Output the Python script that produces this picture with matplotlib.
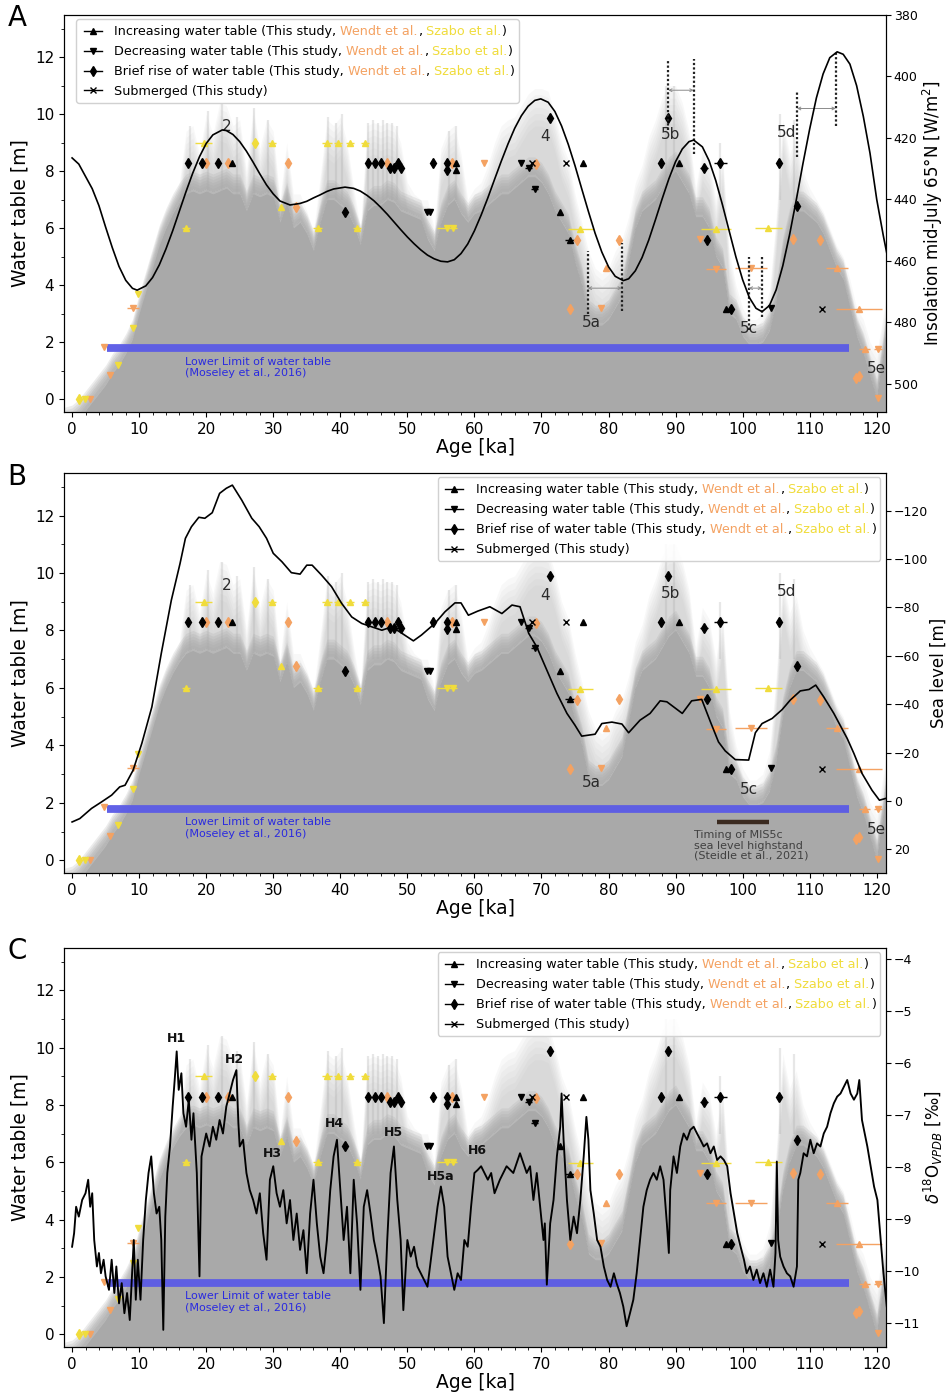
import numpy as np
import matplotlib.pyplot as plt
from matplotlib.lines import Line2D
from matplotlib.ticker import MultipleLocator
from matplotlib.offsetbox import AnchoredOffsetbox, VPacker, HPacker, TextArea, DrawingArea

GREY = '#a9a9a9'
ORANGE = '#f4a262'
YELLOW = '#f0dc3c'
BLUE = '#5a5ae6'

# ---- grey water-table density (upper edge of dense grey, upper edge of faint haze) ----
bg_age = [-1.5, 0, 1, 2, 3, 4, 5, 6, 7, 8, 9, 10, 11, 12, 13, 14, 15, 16, 17, 18, 19, 20,
          21, 22, 23, 24, 25, 26, 27, 28, 29, 30, 31, 32, 33, 34, 35, 36, 37, 38, 39, 40,
          41, 42, 43, 44, 45, 46, 47, 48, 49, 50, 51, 52, 53, 54, 55, 56, 57, 58, 59, 60,
          61, 62, 63, 64, 65, 66, 67, 68, 69, 70, 71, 72, 73, 74, 75, 76, 77, 78, 79, 80,
          81, 82, 83, 84, 85, 86, 87, 88, 89, 90, 91, 92, 93, 94, 95, 96, 97, 98, 99, 100,
          101, 102, 103, 104, 105, 106, 107, 108, 109, 110, 111, 112, 113, 114, 115, 116,
          117, 118, 119, 120, 121, 121.6]
bg_solid = [-0.6, -0.5, -0.3, 0.0, 0.3, 0.6, 0.9, 1.3, 1.6, 2.0, 2.5, 3.4, 4.2, 5.0, 5.8, 6.4,
            6.9, 7.3, 7.6, 7.7, 7.6, 7.7, 7.6, 7.7, 7.8, 7.6, 7.6, 7.0, 7.6, 7.5, 7.6, 7.5,
            6.6, 7.3, 6.4, 6.6, 6.2, 5.6, 6.6, 7.4, 7.4, 7.2, 7.0, 6.5, 5.8, 7.0, 7.2, 7.2,
            7.4, 7.3, 7.0, 6.9, 6.8, 6.7, 6.0, 5.6, 6.6, 7.2, 7.4, 6.9, 6.6, 6.9, 7.0, 7.2,
            7.4, 7.6, 7.6, 7.8, 8.0, 8.2, 8.2, 8.0, 7.6, 7.0, 6.6, 6.2, 5.2, 4.4, 3.2, 3.0,
            3.0, 3.2, 3.6, 4.0, 5.2, 6.4, 7.0, 7.2, 7.4, 7.8, 8.2, 8.4, 8.0, 7.6, 6.8, 6.8,
            6.4, 5.4, 5.0, 3.4, 3.2, 2.6, 2.3, 2.3, 2.4, 2.8, 3.8, 5.4, 6.4, 7.0, 7.0, 6.8,
            6.6, 6.2, 5.6, 5.0, 4.6, 3.6, 2.6, 2.0, 1.2, 0.4, 2.0, 3.2]
bg_haze = [-0.6, -0.5, -0.3, 0.0, 0.3, 0.6, 0.9, 1.3, 1.6, 2.0, 2.5, 3.4, 4.2, 5.0, 5.8, 6.4,
           6.9, 7.6, 9.4, 9.6, 8.6, 10.0, 9.3, 10.4, 10.3, 9.6, 9.8, 8.0, 10.2, 8.8, 9.8, 9.4,
           7.0, 9.0, 7.2, 7.2, 6.6, 5.9, 7.8, 9.8, 9.6, 9.9, 9.0, 7.4, 6.0, 9.6, 9.7, 9.6,
           9.7, 9.6, 9.0, 7.6, 7.2, 7.0, 7.0, 6.0, 8.8, 9.4, 9.6, 8.6, 7.0, 7.4, 7.6, 8.2,
           9.0, 9.6, 9.8, 9.9, 10.3, 10.7, 10.9, 10.9, 10.8, 10.0, 9.0, 8.4, 7.2, 6.2, 5.2,
           4.6, 4.4, 4.6, 5.2, 5.6, 6.4, 7.6, 8.2, 9.2, 9.8, 10.6, 11.0, 11.0, 10.4, 9.4,
           7.4, 8.8, 8.4, 7.0, 8.6, 5.2, 4.0, 3.2, 2.8, 2.8, 3.0, 3.8, 6.4, 9.8, 8.6, 9.2,
           8.0, 7.4, 7.0, 6.6, 6.0, 5.4, 5.0, 4.2, 3.2, 2.8, 2.0, 1.6, 3.0, 4.0]
streak_age = [17.6, 20.3, 22.3, 24.6, 27.2, 29.2, 38.2, 39.4, 40.3, 44.2, 44.9, 45.6,
              46.3, 47.0, 47.7, 48.4, 56.2, 57.2, 88.6, 89.8, 96.7, 105.5, 107.6]
streak_top = [9.6, 10.1, 10.4, 9.9, 10.2, 9.8, 9.9, 9.7, 10.0, 9.7, 9.8, 9.7, 9.8, 9.7,
              9.7, 9.6, 9.4, 9.6, 11.0, 11.0, 9.0, 10.0, 9.8]

# ---- water table markers: (age ka, level m, symbol, age error) ----
this_age = [17.3, 19.4, 21.7, 23.9, 40.7, 44.2, 45.1, 46.0, 47.4, 48.0, 48.6, 49.0, 53.8,
            55.9, 55.9, 57.3, 57.2, 53.0, 53.4, 67.0, 68.1, 68.6, 69.0, 71.2, 73.6, 76.2,
            72.7, 74.3, 87.8, 88.9, 90.5, 94.3, 96.7, 94.7, 97.5, 98.3, 104.3, 105.4,
            108.1, 111.8]
this_wt = [8.3, 8.3, 8.3, 8.3, 6.58, 8.3, 8.3, 8.3, 8.1, 8.1, 8.3, 8.1, 8.3,
           8.3, 8.05, 8.3, 8.05, 6.58, 6.58, 8.3, 8.1, 8.3, 7.38, 9.88, 8.3, 8.3,
           6.58, 5.6, 8.3, 9.88, 8.3, 8.1, 8.3, 5.6, 3.17, 3.17, 3.2, 8.3,
           6.78, 3.17]
this_kind = ['d', 'd', 'd', '^', 'd', 'd', 'd', 'd', 'd', 'd', 'd', 'd', 'd',
             'd', 'd', '^', '^', 'v', 'v', 'v', 'v', 'x', 'v', 'd', 'x', '^',
             '^', '^', 'd', 'd', '^', 'd', 'd', 'd', '^', 'd', 'v', 'd',
             'd', 'x']
this_err = [0, 0, 0, 0, 0, 0, 0, 0, 0, 0, 0, 0, 0,
            0, 0, 0, 0, 0.3, 0, 0, 0.5, 0, 0.5, 0, 0, 0,
            0, 0.8, 0, 0, 0, 0.6, 0.9, 0, 0, 0, 0, 0,
            0, 0]

wendt_age = [2.7, 4.8, 5.7, 9.15, 19.9, 23.2, 32.2, 33.4, 47.0, 56.7, 61.5, 69.2, 74.3,
             75.3, 78.9, 79.6, 81.5, 93.6, 96.0, 101.3, 107.5, 111.6, 114.1, 117.4,
             118.2, 120.2, 116.9, 117.4, 120.2]
wendt_wt = [0.0, 1.84, 0.84, 3.2, 8.3, 8.3, 8.3, 6.76, 8.3, 8.3, 8.3, 8.25, 3.17,
            5.58, 3.2, 4.6, 5.6, 5.62, 4.57, 4.6, 5.62, 5.58, 4.6, 3.17,
            1.77, 1.77, 0.74, 0.82, 0.06]
wendt_kind = ['v', 'v', 'v', 'v', 'd', 'd', 'd', 'd', 'd', 'd', 'v', 'd', 'd',
              'd', 'v', '^', 'd', 'v', 'v', 'v', 'd', 'd', '^', '^',
              '^', 'v', 'd', 'd', 'v']
wendt_err = [0, 0, 0, 0.9, 0, 0, 0, 0, 0, 0, 0, 0, 0,
             0, 0, 0.2, 0, 0, 1.5, 2.4, 0, 0, 1.6, 3.4,
             0.8, 0.6, 0, 0, 0]

szabo_age = [1.0, 1.9, 6.8, 9.15, 9.8, 17.0, 19.6, 27.3, 29.8, 31.1, 36.6, 38.0, 39.6,
             41.5, 42.5, 43.7, 55.9, 56.8, 75.8, 96.0, 103.8]
szabo_wt = [0.0, 0.0, 1.22, 2.5, 3.7, 6.0, 9.0, 9.0, 9.0, 6.76, 6.0, 9.0, 9.0,
            9.0, 6.0, 9.0, 6.0, 6.0, 5.98, 5.98, 6.0]
szabo_kind = ['d', 'v', 'v', 'v', 'v', '^', '^', 'd', '^', '^', '^', '^', '^',
              '^', '^', '^', 'v', 'v', '^', '^', '^']
szabo_err = [0, 0, 0, 0, 0, 0.6, 1.2, 0, 0.6, 0, 0.6, 0.8, 0.6,
             0.6, 0.6, 0.6, 1.5, 0, 1.9, 2.2, 2.0]

lower_limit_age = [5.2, 115.8]
lower_limit_wt = 1.8

# ---- panel A: insolation mid-July 65N ----
ins_age = [0, 1, 2, 3, 4, 5, 6, 7, 8, 9, 9.7, 11, 12, 13, 14, 15, 16, 17, 18, 19, 20, 21,
           22.4, 23, 24, 25, 26, 27, 28, 29, 30, 31, 32.5, 34, 35, 36, 37, 38, 39, 40.7,
           42, 43, 44, 45, 46, 47, 48, 49, 50, 51, 52, 53, 54, 55, 56, 57, 58, 59, 60,
           61, 62, 63, 64, 65, 66, 67, 68, 69, 69.9, 71, 72, 73, 74, 75, 76, 77, 78, 79,
           80, 81, 82.2, 83, 84, 85, 86, 87, 88, 89, 90, 91, 92, 92.7, 94, 95, 96, 97, 98,
           99, 100, 101, 102, 102.9, 104, 105, 106, 107, 108, 109, 110, 111, 112, 113,
           114.1, 115, 116, 117, 118, 119, 120, 121, 121.6]
ins_val = [426.5, 428.5, 432.5, 436.5, 442.0, 449.0, 455.7, 461.8, 466.3, 468.9, 469.5,
           468.1, 465.4, 461.3, 456.1, 450.2, 443.8, 437.4, 431.4, 426.1, 421.8, 419.0,
           417.4, 417.6, 418.9, 421.2, 424.3, 427.9, 431.7, 435.3, 438.2, 440.5, 441.8,
           441.3, 440.6, 439.5, 438.5, 437.4, 436.6, 436.0, 436.4, 437.3, 438.7, 440.4,
           442.5, 444.8, 447.3, 449.8, 452.2, 454.4, 456.4, 458.1, 459.3, 460.1, 460.3,
           459.6, 457.6, 454.5, 450.2, 445.1, 439.5, 433.5, 427.6, 422.0, 416.9, 412.8,
           409.7, 407.8, 407.3, 408.4, 411.4, 416.1, 422.1, 429.0, 436.5, 443.9, 451.0,
           457.1, 461.9, 465.0, 466.4, 465.8, 463.2, 458.9, 453.2, 446.6, 439.8, 433.3,
           427.7, 423.6, 421.2, 420.7, 422.9, 427.4, 433.9, 441.8, 450.3, 458.7, 466.1,
           471.9, 475.4, 476.5, 474.5, 469.4, 461.5, 451.5, 440.2, 428.3, 417.1, 407.0,
           399.2, 393.9, 392.0, 392.8, 396.0, 403.0, 413.0, 425.0, 440.0, 452.0, 458.6]

dot_age = [76.9, 82.0, 88.9, 92.7, 100.9, 102.9, 108.1, 113.9]
dot_lo = [3.0, 3.1, 9.44, 8.6, 2.45, 2.9, 8.5, 9.6]
dot_hi = [5.2, 5.5, 11.95, 11.95, 5.0, 5.0, 10.78, 12.18]
lag_start = [76.9, 88.9, 100.9, 108.1]
lag_end = [82.0, 92.7, 102.9, 113.9]
lag_wt = [3.9, 10.84, 3.9, 10.2]

stage_text = ['2', '4', '5a', '5b', '5c', '5d', '5e']
stage_age = [23.1, 70.6, 77.5, 89.2, 101.0, 106.6, 120.0]
stage_wt = [9.58, 9.23, 2.7, 9.3, 2.47, 9.37, 1.07]

# ---- panel B: sea level ----
sl_age = [0, 1.15, 2.9, 4.4, 5.9, 7.1, 7.9, 9.1, 10.4, 11.9, 13.3, 14.8, 16.1, 16.9, 17.8,
          18.9, 19.8, 20.9, 22.0, 23.0, 23.9, 25.3, 26.8, 27.9, 29.0, 30.0, 31.3, 32.7,
          34.0, 35.0, 35.8, 37.2, 38.7, 40.2, 41.7, 43.2, 44.7, 46.2, 47.7, 49.2, 50.9,
          52.1, 54.1, 55.6, 57.1, 58.0, 59.1, 60.5, 62.3, 64.1, 65.6, 66.8, 68.1, 69.3,
          70.8, 72.3, 73.8, 75.0, 76.0, 78.0, 79.0, 80.5, 82.0, 83.0, 84.7, 86.2, 87.7,
          88.7, 91.0, 92.4, 93.9, 95.2, 96.4, 97.4, 98.9, 100.9, 101.9, 102.9, 104.4,
          105.9, 107.1, 108.6, 109.9, 110.9, 112.1, 113.6, 115.6, 116.6, 117.8, 119.3,
          120.4, 121.3]
sl_val = [8.7, 7.3, 3.1, 0.4, -2.4, -5.8, -6.5, -12.7, -23.8, -38.9, -61, -83, -98.2,
          -108.6, -113.4, -117.3, -116.9, -119.2, -127.2, -129.3, -130.6, -124.4, -116.9,
          -113.4, -108.6, -102.4, -98.9, -94.4, -93.8, -97.5, -97.5, -93.4, -88.6, -81.7,
          -76.1, -73.4, -72.0, -70.6, -72.0, -69.3, -66.2, -68.6, -73.4, -78.2, -81.9,
          -81.9, -76.8, -78.5, -80.3, -77.5, -81, -80.3, -69.3, -63.7, -54.1, -44.5,
          -36.2, -31.3, -26.8, -27.6, -32.0, -32.6, -31.8, -28.2, -33.4, -36.2, -41.4,
          -41.0, -36.2, -41.4, -42.0, -32.7, -24.4, -20.7, -17.1, -16.9, -28.2, -32.0,
          -34.1, -37.8, -41.7, -45.5, -46.1, -47.9, -43.0, -36.2, -25.8, -19.6, -11.4,
          -4.4, -0.3, -1.0]
mis5c_age = [96.2, 103.9]
mis5c_wt = 1.33

# ---- panel C: speleothem d18O ----
d18o_age = [0.0, 0.3, 0.6, 1.0, 1.5, 2.0, 2.4, 2.7, 3.0, 3.3, 3.7, 4.0, 4.3, 4.7, 5.0, 5.5,
            5.9, 6.3, 6.6, 7.0, 7.4, 7.8, 8.2, 8.6, 9.0, 9.2, 9.5, 9.8, 10.2, 10.6, 11.0,
            11.4, 11.8, 12.2, 12.6, 13.0, 13.3, 13.6, 13.9, 14.2, 14.6, 15.0, 15.3, 15.6,
            15.9, 16.3, 16.6, 17.0, 17.4, 17.8, 18.1, 18.6, 19.0, 19.3, 19.6, 20.0, 20.5,
            21.0, 21.5, 22.0, 22.5, 23.0, 23.5, 24.0, 24.5, 24.8, 25.0, 25.5, 26.0, 26.5,
            27.0, 27.5, 28.0, 28.5, 29.0, 29.5, 30.0, 30.5, 31.0, 31.5, 32.0, 32.5, 33.0,
            33.5, 34.0, 34.5, 35.0, 35.5, 36.0, 36.5, 37.0, 37.5, 38.0, 38.5, 39.0, 39.5,
            40.0, 40.5, 41.0, 41.5, 42.0, 42.5, 43.0, 43.5, 44.0, 44.5, 45.0, 45.5, 46.0,
            46.5, 47.0, 47.5, 48.0, 48.5, 49.0, 49.4, 50.0, 50.5, 51.0, 51.5, 52.0, 52.5,
            53.0, 53.5, 54.0, 54.5, 55.0, 55.5, 56.0, 56.5, 57.0, 57.5, 58.0, 58.5, 59.0,
            59.5, 60.0, 60.5, 61.0, 61.5, 62.0, 62.5, 63.0, 63.8, 64.8, 65.8, 66.8, 67.8,
            68.3, 68.8, 69.3, 69.8, 70.3, 70.5, 70.8, 71.3, 71.8, 72.3, 72.8, 73.0, 73.3,
            73.8, 74.3, 74.8, 75.3, 75.8, 76.3, 76.7, 77.0, 77.3, 77.8, 78.3, 78.8, 79.3,
            79.8, 80.3, 80.8, 81.2, 81.7, 82.2, 82.7, 83.2, 83.7, 84.2, 84.7, 85.2, 85.7,
            86.2, 86.7, 87.2, 87.7, 88.2, 88.7, 89.0, 89.2, 89.7, 90.2, 90.7, 91.2, 91.7,
            92.2, 92.7, 93.2, 93.7, 94.2, 94.7, 95.2, 95.7, 96.2, 96.7, 97.2, 97.7, 98.2,
            98.7, 99.2, 99.7, 100.2, 100.6, 101.1, 101.6, 102.1, 102.6, 103.1, 103.6,
            104.1, 104.6, 104.9, 105.1, 105.3, 105.6, 106.1, 106.6, 107.1, 107.6, 108.1,
            108.3, 108.6, 109.1, 109.6, 110.1, 110.6, 111.1, 111.6, 112.1, 112.6, 113.1,
            113.6, 114.1, 114.6, 115.1, 115.6, 116.1, 116.6, 117.1, 117.4, 117.8, 118.2,
            118.6, 119.1, 119.6, 120.1, 120.6, 121.0, 121.5]
d18o_val = [-9.54, -9.28, -8.77, -8.96, -8.64, -8.51, -8.25, -8.77, -8.51, -9.41, -9.92,
            -9.66, -10.05, -9.79, -10.11, -10.37, -9.79, -10.43, -9.92, -10.63, -10.24,
            -10.82, -10.43, -10.95, -9.92, -9.41, -10.56, -9.79, -10.56, -9.41, -8.64,
            -8.12, -7.80, -8.51, -8.90, -8.77, -9.41, -11.14, -8.96, -8.12, -7.61, -6.84,
            -6.33, -5.78, -6.52, -6.20, -6.97, -7.23, -6.71, -7.48, -6.97, -8.12, -10.11,
            -7.80, -7.61, -7.36, -7.61, -7.23, -7.48, -7.10, -7.36, -6.84, -6.59, -6.33,
            -6.14, -7.16, -7.61, -7.48, -8.12, -8.45, -8.64, -8.90, -8.51, -9.28, -9.79,
            -8.25, -7.99, -8.51, -8.77, -8.45, -9.09, -8.64, -9.41, -8.90, -9.60, -9.22,
            -10.05, -8.90, -8.25, -9.09, -9.73, -10.05, -9.41, -8.45, -7.80, -7.48, -8.45,
            -9.41, -8.77, -10.05, -8.25, -9.09, -10.37, -8.77, -8.45, -8.90, -9.41, -9.73,
            -10.11, -11.01, -9.41, -8.12, -7.61, -8.64, -9.41, -10.76, -9.41, -9.73, -9.54,
            -9.92, -10.05, -10.18, -10.31, -9.79, -9.28, -8.77, -8.38, -8.77, -9.73,
            -10.05, -10.37, -10.05, -10.18, -9.41, -9.54, -8.77, -8.12, -8.06, -7.99,
            -8.12, -8.25, -8.12, -8.51, -8.25, -7.99, -8.12, -7.74, -8.12, -7.99, -8.64,
            -8.12, -8.77, -9.41, -9.09, -10.27, -9.09, -8.64, -7.80, -7.23, -6.59, -7.48,
            -8.64, -9.41, -8.96, -9.28, -8.64, -7.80, -7.04, -7.48, -8.45, -8.90, -9.41,
            -9.54, -9.92, -10.18, -10.31, -10.05, -10.24, -10.43, -10.69, -11.07, -10.82,
            -10.56, -10.05, -9.41, -8.77, -8.45, -8.25, -8.12, -8.25, -7.99, -8.25, -9.09,
            -9.66, -8.45, -7.80, -8.12, -7.61, -7.36, -7.48, -7.29, -7.23, -7.36, -7.48,
            -7.61, -7.55, -7.74, -7.61, -7.87, -7.80, -7.87, -7.99, -8.51, -8.90, -9.28,
            -9.54, -9.79, -10.05, -9.92, -10.18, -9.98, -10.24, -10.05, -10.31, -9.98,
            -10.31, -9.66, -7.90, -9.41, -9.73, -9.92, -10.05, -10.11, -10.31, -9.92,
            -8.25, -8.12, -7.74, -7.80, -7.48, -7.74, -7.55, -7.61, -7.36, -7.23, -6.97,
            -6.78, -6.65, -6.59, -6.46, -6.33, -6.59, -6.71, -6.59, -6.33, -7.10, -7.36,
            -7.61, -7.99, -8.38, -8.64, -9.41, -10.05, -10.69]

heinrich_text = ['H1', 'H2', 'H3', 'H4', 'H5', 'H5a', 'H6']
heinrich_age = [15.5, 24.2, 29.9, 39.1, 47.9, 54.9, 60.4]
heinrich_wt = [10.34, 9.6, 6.32, 7.37, 7.04, 5.52, 6.43]

legend_kind = ['^', 'v', 'd', 'x']
legend_label = ['Increasing water table (This study,', 'Decreasing water table (This study,',
                'Brief rise of water table (This study,', 'Submerged (This study)']


def draw_background(ax):
    solid = np.array(bg_solid)
    haze = np.array(bg_haze)
    ax.fill_between(bg_age, -1, solid - 0.4, color=GREY, lw=0, zorder=0)
    for k in range(8):
        ax.fill_between(bg_age, -1, solid - 0.4 + 0.1 * k, color=GREY, alpha=0.22,
                        lw=0, zorder=0)
    for k in range(7):
        top = np.maximum(haze - 0.22 * k, solid - 0.3)
        ax.fill_between(bg_age, solid - 0.3, top, color=GREY, alpha=0.075, lw=0, zorder=0)
    ax.vlines(streak_age, 7.0, streak_top, colors=GREY, lw=1.6, alpha=0.28, zorder=0)


def draw_markers(ax):
    for ages, wts, kinds, errs, col in [(wendt_age, wendt_wt, wendt_kind, wendt_err, ORANGE),
                                        (szabo_age, szabo_wt, szabo_kind, szabo_err, YELLOW),
                                        (this_age, this_wt, this_kind, this_err, 'k')]:
        for a, w, k, e in zip(ages, wts, kinds, errs):
            ms = {'^': 5, 'v': 5, 'd': 5.5, 'x': 4}[k]
            ax.errorbar(a, w, xerr=e if e else None, fmt=k, color=col, ms=ms, mew=1,
                        elinewidth=1, capsize=0, zorder=3)


def add_legend(ax, loc, anchor):
    fs = 9.2
    rows = []
    for mk, lab in zip(legend_kind, legend_label):
        da = DrawingArea(17, 8, 0, 0)
        da.add_artist(Line2D([2, 15], [3.2, 3.2], color='k', lw=1))
        da.add_artist(Line2D([8.5], [3.2], marker=mk, color='k', ls='none',
                             ms=4 if mk == 'x' else 5))
        parts = [da, DrawingArea(7, 1, 0, 0), TextArea(lab, textprops=dict(fontsize=fs))]
        if 'Submerged' not in lab:
            parts += [DrawingArea(2.9, 1, 0, 0),
                      TextArea('Wendt et al.', textprops=dict(fontsize=fs, color=ORANGE)),
                      TextArea(',', textprops=dict(fontsize=fs)),
                      DrawingArea(2.9, 1, 0, 0),
                      TextArea('Szabo et al.', textprops=dict(fontsize=fs, color=YELLOW)),
                      TextArea(')', textprops=dict(fontsize=fs))]
        rows.append(HPacker(children=parts, align='baseline', pad=0, sep=0))
    box = AnchoredOffsetbox(loc=loc, child=VPacker(children=rows, align='left', pad=0, sep=4.2),
                            pad=0.35, borderpad=0.3, frameon=True, bbox_to_anchor=anchor,
                            bbox_transform=ax.transAxes)
    box.patch.set_boxstyle('round,pad=0,rounding_size=0.2')
    box.patch.set_facecolor((1, 1, 1, 0.85))
    box.patch.set_edgecolor('0.82')
    box.set_zorder(6)
    ax.add_artist(box)


def setup_main(ax):
    ax.set_xlim(-1.2, 121.4)
    ax.set_ylim(-0.44, 13.48)
    ax.xaxis.set_major_locator(MultipleLocator(10))
    ax.xaxis.set_minor_locator(MultipleLocator(2))
    ax.yaxis.set_major_locator(MultipleLocator(2))
    ax.yaxis.set_minor_locator(MultipleLocator(1))
    ax.tick_params(labelsize=11)
    ax.set_xlabel('Age [ka]', fontsize=13.5, labelpad=1)
    ax.set_ylabel('Water table [m]', fontsize=13.5)
    draw_background(ax)
    ax.plot(lower_limit_age, [lower_limit_wt] * 2, color=BLUE, lw=5.6, alpha=0.95,
            solid_capstyle='butt', zorder=1)
    ax.text(16.8, 1.5, 'Lower Limit of water table\n(Moseley et al., 2016)', color='#2a2ae0',
            fontsize=8, va='top', ha='left', linespacing=1.2, zorder=2)
    draw_markers(ax)


fig = plt.figure(figsize=(9.46, 13.95), dpi=100)
axA = fig.add_axes([0.0677, 0.7047, 0.869, 0.2846])
axB = fig.add_axes([0.0677, 0.3742, 0.869, 0.2867])
axC = fig.add_axes([0.0677, 0.0344, 0.869, 0.2860])

for ax in (axA, axB, axC):
    setup_main(ax)

for ax in (axA, axB):
    for t, a, w in zip(stage_text, stage_age, stage_wt):
        ax.text(a, w, t, fontsize=11, color='#2b2b2b', ha='center', va='center', zorder=4)

# panel A extras
axA.vlines(dot_age, dot_lo, dot_hi, colors='#222222', linestyles=(0, (1, 1)), lw=1.6, zorder=4)
for a0, a1, w in zip(lag_start, lag_end, lag_wt):
    axA.annotate('', xy=(a1, w), xytext=(a0, w),
                 arrowprops=dict(arrowstyle='<->', color='#8a8a8a', lw=0.7,
                                 mutation_scale=5, shrinkA=0, shrinkB=0), zorder=4)

# panel B extras
axB.plot(mis5c_age, [mis5c_wt] * 2, color='#3a2a20', lw=3.2, solid_capstyle='butt', zorder=2)
axB.text(92.8, 1.05, 'Timing of MIS5c\nsea level highstand\n(Steidle et al., 2021)',
         fontsize=8, color='#404040', va='top', ha='left', linespacing=1.05, zorder=2)

# panel C extras
for t, a, w in zip(heinrich_text, heinrich_age, heinrich_wt):
    axC.text(a, w, t, fontsize=9, fontweight='bold', color='#111111', ha='center',
             va='center', zorder=5)

add_legend(axA, 'upper left', (0.0095, 1))
add_legend(axB, 'upper right', (0.998, 1))
add_legend(axC, 'upper right', (0.998, 1))

# twin axes
tA = axA.twinx()
tA.plot(ins_age, ins_val, color='k', lw=1.2)
tA.set_ylim(509.1, 380)
tA.yaxis.set_major_locator(MultipleLocator(20))
tA.set_ylabel('Insolation mid-July 65°N [W/m$^2$]', fontsize=12, labelpad=2)

tB = axB.twinx()
tB.plot(sl_age, sl_val, color='k', lw=1.2)
tB.set_ylim(29.8, -135.6)
tB.yaxis.set_major_locator(MultipleLocator(20))
tB.set_ylabel('Sea level [m]', fontsize=12, labelpad=1)

tC = axC.twinx()
tC.plot(d18o_age, d18o_val, color='k', lw=1.35)
tC.set_ylim(-11.47, -3.79)
tC.yaxis.set_major_locator(MultipleLocator(1))
tC.set_ylabel(r'$\delta^{18}\mathrm{O}_{VPDB}$ [‰]', fontsize=12, labelpad=1)

for t in (tA, tB, tC):
    t.tick_params(labelsize=9, pad=2)
    t.set_xlim(-1.2, 121.4)

fig.text(0.008, 0.997, 'A', fontsize=20, va='top')
fig.text(0.008, 0.668, 'B', fontsize=20, va='top')
fig.text(0.008, 0.3285, 'C', fontsize=20, va='top')

fig.savefig('out.png', dpi=100)
